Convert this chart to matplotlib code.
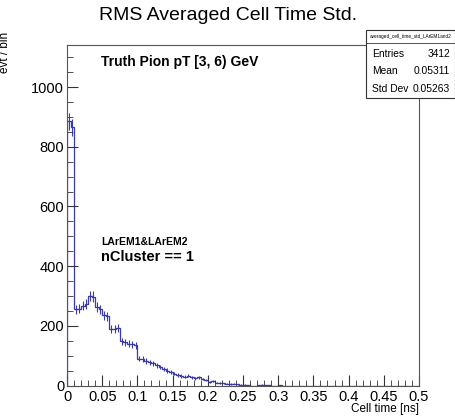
import numpy as np
import matplotlib
matplotlib.use("Agg")
from matplotlib import pyplot as plt
from matplotlib.patches import Rectangle
from matplotlib.ticker import MultipleLocator

plt.rcParams['font.family'] = ['Liberation Sans', 'DejaVu Sans']

# bin contents, 100 bins of 0.005 ns from 0 to 0.5
counts = [885, 865, 255, 258, 268, 272, 300, 298, 262, 255,
          235, 232, 190, 188, 193, 148, 145, 140, 138, 135,
          90, 88, 82, 78, 75, 68, 62, 56, 50, 46,
          40, 36, 32, 30, 33, 28, 25, 27, 22, 18,
          12, 14, 10, 9, 7, 6, 5, 6, 4, 3,
          2, 1, 0, 0, 1, 2, 1, 1, 0, 0,
          1, 0, 0, 0, 0, 0, 0, 0, 0, 0,
          0, 0, 0, 0, 0, 0, 0, 0, 0, 0,
          0, 0, 0, 0, 0, 0, 0, 0, 0, 0,
          0, 0, 0, 0, 0, 0, 0, 0, 0, 0]
edges = np.linspace(0, 0.5, 101)
stats_names = ["Entries", "Mean", "Std Dev"]
stats_values = ["3412", "0.05311", "0.05263"]

W, H = 456, 418
fig = plt.figure(figsize=(W / 100, H / 100), dpi=100)
ax = fig.add_axes([67 / W, 1 - 385.5 / H, (419 - 67) / W, (385.5 - 45) / H])

counts = np.array(counts, dtype=float)
col = '#3a3aaa'
ax.stairs(counts, edges, color=col, lw=0.9)
centers = 0.5 * (edges[1:] + edges[:-1])
m = counts > 0
ax.errorbar(centers[m], counts[m], yerr=np.sqrt(counts[m]), xerr=0.0025,
            fmt='none', ecolor=col, elinewidth=0.8, capsize=0)

ax.set_xlim(0, 0.5)
ax.set_ylim(0, 1141)
ax.xaxis.set_minor_locator(MultipleLocator(0.01))
ax.yaxis.set_major_locator(MultipleLocator(200))
ax.yaxis.set_minor_locator(MultipleLocator(50))
ax.set_xticks(np.arange(0, 0.501, 0.05))
ax.set_xticklabels(["0", "0.05", "0.1", "0.15", "0.2", "0.25", "0.3", "0.35", "0.4", "0.45", "0.5"])
ax.tick_params(which='both', direction='in', labelsize=10.5, color='#333333')
ax.tick_params(which='major', length=8)
ax.tick_params(which='minor', length=4)
ax.tick_params(axis='x', pad=3)
ax.tick_params(axis='y', pad=2)
for s in ax.spines.values():
    s.set_color('#555555')
    s.set_linewidth(0.8)

fig.text(0.5, 1 - 15 / H, "RMS Averaged Cell Time Std.", ha='center', va='center', fontsize=14)
fig.text(419 / W, 1 - 409 / H, "Cell time [ns]", ha='right', va='center', fontsize=8.5)
fig.text(5 / W, 1 - 32 / H, "evt / bin", ha='center', va='top', rotation=90, fontsize=8.5)

ax.text(101 / W, 1 - 62 / H, "Truth Pion pT [3, 6) GeV", transform=fig.transFigure,
        ha='left', va='center', fontsize=10, fontweight='bold')
ax.text(101 / W, 1 - 242 / H, "LArEM1&LArEM2", transform=fig.transFigure,
        ha='left', va='center', fontsize=7.5, fontweight='bold')
ax.text(101 / W, 1 - 257 / H, "nCluster == 1", transform=fig.transFigure,
        ha='left', va='center', fontsize=10.5, fontweight='bold')

# stats box
x0, x1, y0, y1 = 366, 455, 30, 98
fig.patches.append(Rectangle((x0 / W, 1 - y1 / H), (x1 - x0) / W, (y1 - y0) / H,
                             transform=fig.transFigure, fc='white', ec='#333333', lw=0.8, zorder=5))
fig.lines.append(plt.Line2D([x0 / W, x1 / W], [1 - 43 / H, 1 - 43 / H],
                            transform=fig.transFigure, color='#333333', lw=0.6, zorder=6))
fig.text((x0 + x1) / 2 / W, 1 - 36.5 / H, "averaged_cell_time_std_LArEM1and2",
         ha='center', va='center', fontsize=3.4, zorder=7)
for i, (n, v) in enumerate(zip(stats_names, stats_values)):
    yy = 1 - (54.5 + 17 * i) / H
    fig.text(372 / W, yy, n, ha='left', va='center', fontsize=7.4, zorder=7)
    fig.text(450 / W, yy, v, ha='right', va='center', fontsize=7.4, zorder=7)

fig.savefig('out.png', dpi=100)
